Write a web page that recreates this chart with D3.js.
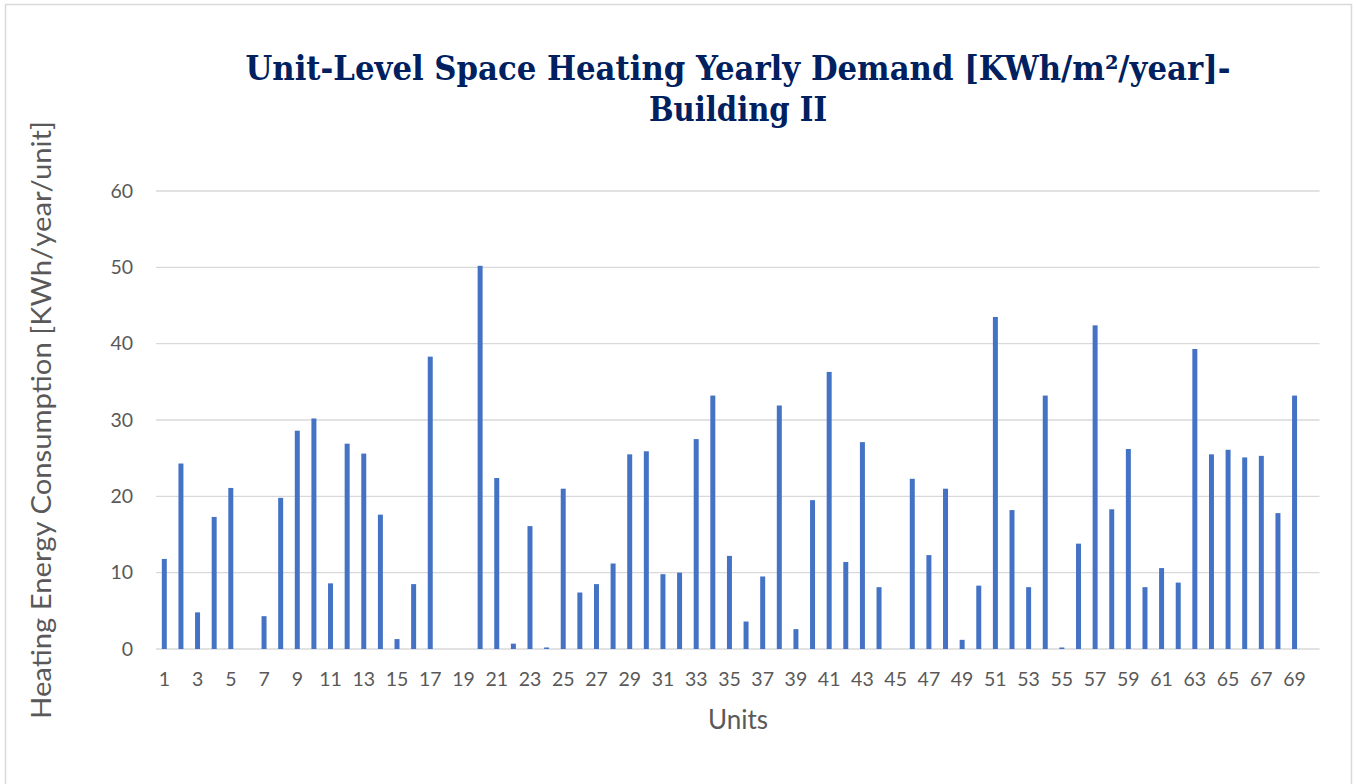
<!DOCTYPE html>
<html>
<head>
<meta charset="utf-8">
<script src="https://cdn.jsdelivr.net/npm/d3@7"></script>
<style>
  body { margin: 0; background: #fff; }
  svg { display: block; }
</style>
</head>
<body>
<svg id="chart" width="1356" height="784"></svg>
<script>
// Unit ids (70 slots on the axis, last one is empty)
const units = d3.range(1, 71).map(String);
// Heating demand per unit
const demand = [
  11.8, 24.3, 4.8, 17.3, 21.1, 0, 4.3, 19.8, 28.6, 30.2,
  8.6, 26.9, 25.6, 17.6, 1.3, 8.5, 38.3, 0, 0, 50.2,
  22.4, 0.7, 16.1, 0.2, 21.0, 7.4, 8.5, 11.2, 25.5, 25.9,
  9.8, 10.0, 27.5, 33.2, 12.2, 3.6, 9.5, 31.9, 2.6, 19.5,
  36.3, 11.4, 27.1, 8.1, 0, 22.3, 12.3, 21.0, 1.2, 8.3,
  43.5, 18.2, 8.1, 33.2, 0.2, 13.8, 42.4, 18.3, 26.2, 8.1,
  10.6, 8.7, 39.3, 25.5, 26.1, 25.1, 25.3, 17.8, 33.2
];
const yTicks = [0, 10, 20, 30, 40, 50, 60];

const svg = d3.select("#chart");
const margin = { left: 156, right: 1319.5, top: 191, bottom: 649 };
const font = "Lato, 'Open Sans', sans-serif";

// chart frame
svg.append("rect")
  .attr("x", 5.5).attr("y", 4.5)
  .attr("width", 1346).attr("height", 800)
  .attr("fill", "#fff")
  .attr("stroke", "#d9d9d9")
  .attr("stroke-width", 1.5);

const x = d3.scaleBand()
  .domain(units)
  .range([margin.left, margin.right])
  .paddingInner(0.7)
  .paddingOuter(0.35);

const y = d3.scaleLinear()
  .domain([0, 60])
  .range([margin.bottom, margin.top]);

// gridlines
svg.append("g")
  .selectAll("line")
  .data(yTicks)
  .join("line")
  .attr("x1", margin.left).attr("x2", margin.right)
  .attr("y1", d => y(d)).attr("y2", d => y(d))
  .attr("stroke", "#d9d9d9")
  .attr("stroke-width", 1.3);

// y tick labels
svg.append("g")
  .selectAll("text")
  .data(yTicks)
  .join("text")
  .attr("x", 133)
  .attr("y", d => y(d))
  .attr("dy", "0.35em")
  .attr("text-anchor", "end")
  .attr("font-family", font)
  .attr("font-size", 19.5)
  .attr("fill", "#595959")
  .text(d => d);

// bars
svg.append("g")
  .selectAll("rect")
  .data(demand)
  .join("rect")
  .attr("x", (d, i) => x(units[i]))
  .attr("width", x.bandwidth())
  .attr("y", d => y(d))
  .attr("height", d => y(0) - y(d))
  .attr("fill", "#4472c4");

// x tick labels, every other unit
svg.append("g")
  .selectAll("text")
  .data(units.filter((u, i) => i % 2 === 0 && i < 69))
  .join("text")
  .attr("x", d => x(d) + x.bandwidth() / 2)
  .attr("y", 686)
  .attr("text-anchor", "middle")
  .attr("font-family", font)
  .attr("font-size", 19.5)
  .attr("fill", "#595959")
  .text(d => d);

// axis titles
svg.append("text")
  .attr("x", 738).attr("y", 729)
  .attr("text-anchor", "middle")
  .attr("font-family", font)
  .attr("font-size", 26)
  .attr("fill", "#595959")
  .text("Units");

svg.append("text")
  .attr("transform", "translate(51,420) rotate(-90)")
  .attr("text-anchor", "middle")
  .attr("font-family", font)
  .attr("font-size", 27)
  .attr("textLength", 598)
  .attr("lengthAdjust", "spacingAndGlyphs")
  .attr("fill", "#595959")
  .text("Heating Energy Consumption [KWh/year/unit]");

// title
const title = svg.append("text")
  .attr("text-anchor", "middle")
  .attr("font-family", "'DejaVu Serif Condensed', 'Liberation Serif', serif")
  .attr("font-weight", "bold")
  .attr("font-size", 33)
  .attr("fill", "#002060");
title.append("tspan")
  .attr("x", 738).attr("y", 80)
  .attr("textLength", 985)
  .attr("lengthAdjust", "spacingAndGlyphs")
  .text("Unit-Level Space Heating Yearly Demand [KWh/m²/year]-");
title.append("tspan")
  .attr("x", 738).attr("y", 121)
  .attr("textLength", 178)
  .attr("lengthAdjust", "spacingAndGlyphs")
  .text("Building II");
</script>
</body>
</html>
